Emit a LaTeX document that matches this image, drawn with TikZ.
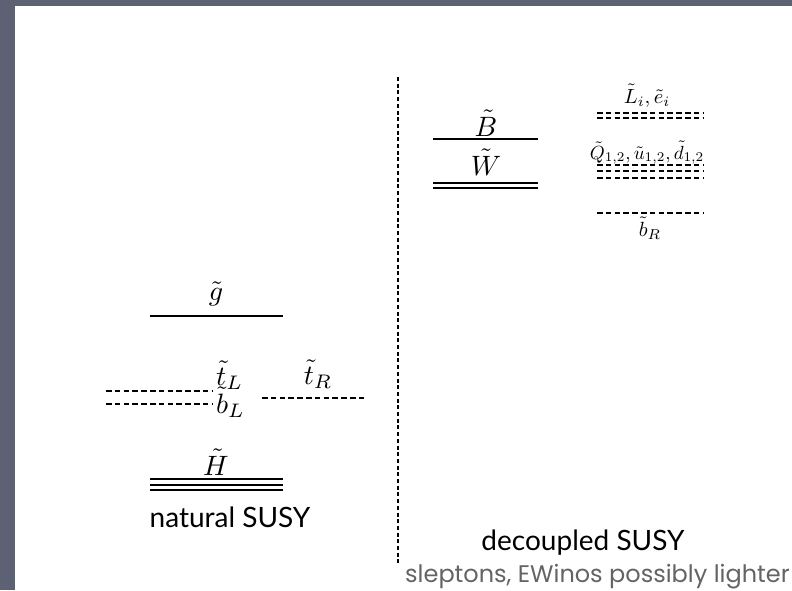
\documentclass[tikz,border=0pt]{standalone}
\usepackage{fontspec}
\setsansfont{Lato}
\newfontfamily\notefont{Poppins}
% math labels drawn at 10pt and enlarged
\newcommand{\biglbl}[1]{\scalebox{2.8}{$#1$}}
\newcommand{\smalllbl}[1]{\scalebox{2.05}{$#1$}}
\begin{document}
\begin{tikzpicture}[x=1pt,y=-1pt,
  level/.style={line width=2.3pt},
  squark/.style={line width=2.1pt,dash pattern=on 5.5pt off 3.3pt},
  divider/.style={line width=2pt,dash pattern=on 4pt off 2.7pt},
  lbl/.style={inner sep=0pt,anchor=base},
  title/.style={inner sep=0pt,anchor=base,font=\sffamily\fontsize{28}{33}\selectfont}]
\definecolor{frame}{RGB}{92,98,116}
\definecolor{notegray}{RGB}{100,100,100}
\useasboundingbox (0,0) rectangle (792,590);
\fill[frame] (0,0) rectangle (792,590);
\fill[white] (15,6) rectangle (792,590);

% divider between the two spectra
\coordinate (divtop) at (398,77);
\coordinate (divbot) at (398,565);
\draw[divider] (divtop) -- (divbot);

% ---- natural SUSY ----
\draw[level] (150,316) -- (283,316);
\node[lbl] (gluino) at (216,300) {\biglbl{\tilde g}};

\draw[squark] (106,391) -- (212,391);
\draw[squark] (106,404) -- (212,404);
\node[lbl,anchor=base west] (tL) at (216,385) {\biglbl{\tilde t_L}};
\node[lbl,anchor=base west] (bL) at (216,413) {\biglbl{\tilde b_L}};
\draw[squark] (262,398) -- (367,398);
\node[lbl] (tR) at (318,384) {\biglbl{\tilde t_R}};

\draw[level] (150,479) -- (283,479);
\draw[level] (150,485) -- (283,485);
\draw[level] (150,490) -- (283,490);
\node[lbl] (higgsino) at (216,475) {\biglbl{\tilde H}};

\node[title] (natural) at (230,527) {natural SUSY};

% ---- decoupled SUSY ----
\draw[level] (433,139) -- (538,139);
\node[lbl] (bino) at (486,136) {\biglbl{\tilde B}};
\draw[level] (433,183) -- (538,183);
\draw[level] (433,188) -- (538,188);
\node[lbl] (wino) at (486,175) {\biglbl{\tilde W}};

\draw[squark] (597,113) -- (703,113);
\draw[squark] (597,118) -- (703,118);
\node[lbl] (sleptons) at (647,103) {\smalllbl{\tilde L_i, \tilde e_i}};

\draw[squark] (597,165) -- (703,165);
\draw[squark] (597,171) -- (703,171);
\draw[squark] (597,178) -- (703,178);
\node[lbl] (squarks) at (647,159) {\scalebox{1.9}{$\tilde Q_{1,2}, \tilde u_{1,2}, \tilde d_{1,2}$}};

\draw[squark] (597,213) -- (703,213);
\node[lbl] (bR) at (650,236) {\smalllbl{\tilde b_R}};

\node[title] (decoupled) at (583,550) {decoupled SUSY};
\node[inner sep=0pt,anchor=base west,text=notegray,font=\notefont\fontsize{24}{28}\selectfont] (note) at (405,582) {sleptons, EWinos possibly lighter};
\end{tikzpicture}
\end{document}
